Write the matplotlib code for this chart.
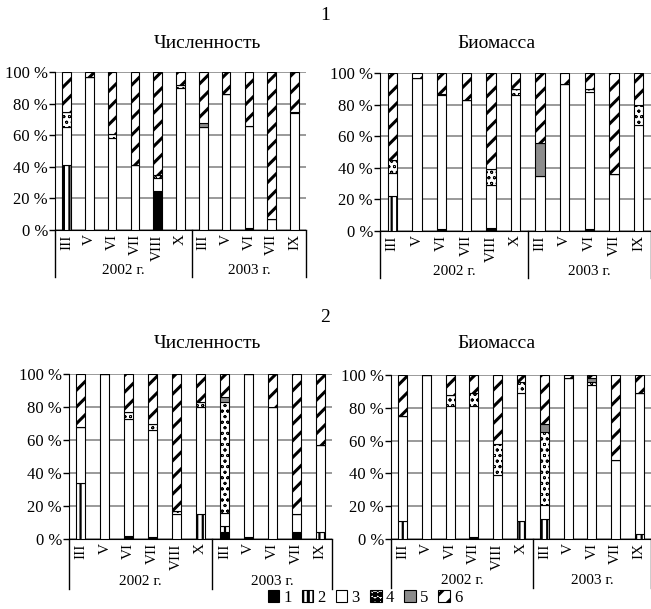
import matplotlib as mpl
mpl.use("Agg")
import matplotlib.pyplot as plt
from matplotlib.patches import Patch
import numpy as np

plt.rcParams["font.family"] = ["Liberation Serif", "DejaVu Serif"]
plt.rcParams["hatch.linewidth"] = 2.2

months = ["III", "V", "VI", "VII", "VIII", "X", "III", "V", "VI", "VII", "IX"]
years = ["2002 г.", "2003 г."]
n2002 = 6
groups = ["1", "2", "3", "4", "5", "6"]
y_ticks = [0, 20, 40, 60, 80, 100]

# shares of groups 1..6 (%), one row per month
num1 = [
    [0, 41, 24, 10, 0, 25],
    [0, 0, 97, 0, 0, 3],
    [0, 0, 58, 3, 0, 39],
    [0, 0, 41, 0, 0, 59],
    [25, 0, 8, 2, 0, 65],
    [0, 0, 90, 2, 0, 8],
    [0, 0, 65, 0, 3, 32],
    [0, 0, 86, 0, 0, 14],
    [1, 0, 65, 0, 0, 34],
    [0, 0, 7, 0, 0, 93],
    [0, 0, 74, 1, 0, 25],
]
bio1 = [
    [0, 22, 15, 8, 0, 55],
    [0, 0, 97, 0, 0, 3],
    [1, 0, 85, 1, 0, 13],
    [0, 0, 83, 0, 0, 17],
    [2, 0, 27, 10, 0, 61],
    [0, 0, 86, 4, 0, 10],
    [0, 0, 35, 0, 21, 44],
    [0, 0, 93, 0, 0, 7],
    [1, 0, 87, 2, 0, 10],
    [0, 0, 36, 0, 0, 64],
    [0, 0, 67, 13, 0, 20],
]
num2 = [
    [0, 34, 34, 0, 0, 32],
    [0, 0, 100, 0, 0, 0],
    [2, 0, 71, 4, 0, 23],
    [1, 0, 65, 4, 0, 30],
    [0, 0, 15, 2, 0, 83],
    [0, 15, 65, 3, 0, 17],
    [4, 4, 8, 67, 3, 14],
    [1, 0, 99, 0, 0, 0],
    [0, 0, 80, 0, 0, 20],
    [4, 0, 11, 0, 0, 85],
    [0, 4, 53, 0, 0, 43],
]
bio2 = [
    [0, 11, 64, 0, 0, 25],
    [0, 0, 100, 0, 0, 0],
    [0, 0, 81, 7, 0, 12],
    [1, 0, 80, 8, 0, 11],
    [0, 0, 39, 19, 0, 42],
    [0, 11, 78, 7, 0, 4],
    [0, 12, 9, 44, 5, 30],
    [0, 0, 98, 0, 0, 2],
    [0, 0, 94, 2, 2, 2],
    [0, 0, 48, 0, 0, 52],
    [0, 3, 86, 0, 0, 11],
]

STYLES = [
    dict(facecolor="black", hatch=None, hlw=None),
    dict(facecolor="white", hatch="|||", hlw=1.6),
    dict(facecolor="white", hatch=None, hlw=None),
    dict(facecolor="white", hatch="ooo", hlw=0.6),
    dict(facecolor="#8c8c8c", hatch=None, hlw=None),
    dict(facecolor="white", hatch="//", hlw=None),
]
GRID = "#7f7f7f"
W, H = 651, 609


def panel(rect, data, labels):
    ax = fig.add_axes(rect)
    vals = np.array(data, dtype=float)
    x = np.arange(len(vals))
    bottom = np.zeros(len(vals))
    for k, st in enumerate(STYLES):
        h = vals[:, k]
        bars = ax.bar(x, h, bottom=bottom, width=0.38, facecolor=st["facecolor"],
                      edgecolor="black", linewidth=0.8, hatch=st["hatch"], zorder=3)
        if st["hlw"]:
            for b in bars:
                if hasattr(b, "set_hatch_linewidth"):
                    b.set_hatch_linewidth(st["hlw"])
        bottom += h
    ax.set_xlim(-0.5, len(vals) - 0.5)
    ax.set_ylim(0, 100)
    ax.set_yticks(y_ticks)
    ax.set_yticklabels([f"{v} %" for v in y_ticks], fontsize=12)
    ax.yaxis.grid(True, color=GRID, lw=1.1, zorder=0)
    ax.set_axisbelow(True)
    ax.tick_params(axis="y", length=4, width=1, pad=1)
    ax.set_xticks(x)
    ax.set_xticklabels(labels, rotation=90, fontsize=11, va="top")
    ax.tick_params(axis="x", length=0, pad=3)
    for s in ["top", "right"]:
        ax.spines[s].set_visible(False)
    tr = ax.get_xaxis_transform()
    for xv in [-0.5, n2002 - 0.5, len(vals) - 0.5]:
        ax.plot([xv, xv], [0, -0.30], color="black", lw=1.0, transform=tr, clip_on=False)
    ax.text((n2002 - 1) / 2, -0.255, years[0], transform=tr, ha="center", va="center", fontsize=11)
    ax.text((n2002 + len(vals) - 1) / 2, -0.255, years[1], transform=tr, ha="center", va="center", fontsize=11)
    return ax


def rect(x0, x1, y0, y1):
    return [x0 / W, 1 - y1 / H, (x1 - x0) / W, (y1 - y0) / H]


fig = plt.figure(figsize=(W / 100, H / 100), dpi=100)
fig.patch.set_facecolor("white")

panel(rect(55, 306, 72, 230), num1, months)
panel(rect(380, 651, 73, 231), bio1, months)
panel(rect(69, 332, 374, 539), num2, months)
panel(rect(391, 651, 375, 539), bio2, months)

fig.text(325 / W, 1 - 15 / H, "1", ha="center", va="center", fontsize=14)
fig.text(208 / W, 1 - 43 / H, "Численность", ha="center", va="center", fontsize=14)
fig.text(496 / W, 1 - 43 / H, "Биомасса", ha="center", va="center", fontsize=14)
fig.text(325 / W, 1 - 318 / H, "2", ha="center", va="center", fontsize=14)
fig.text(208 / W, 1 - 343 / H, "Численность", ha="center", va="center", fontsize=14)
fig.text(496 / W, 1 - 343 / H, "Биомасса", ha="center", va="center", fontsize=14)

handles = []
for st in STYLES:
    p = Patch(facecolor=st["facecolor"], edgecolor="black", hatch=st["hatch"], lw=0.8)
    if st["hlw"] and hasattr(p, "set_hatch_linewidth"):
        p.set_hatch_linewidth(st["hlw"])
    handles.append(p)
fig.legend(handles, groups, loc="center", bbox_to_anchor=(365 / W, 1 - 598 / H), ncol=6,
           frameon=False, fontsize=12, handlelength=0.7, handleheight=0.7,
           handletextpad=0.25, columnspacing=0.6, borderpad=0)

fig.savefig("out.png", dpi=100)
